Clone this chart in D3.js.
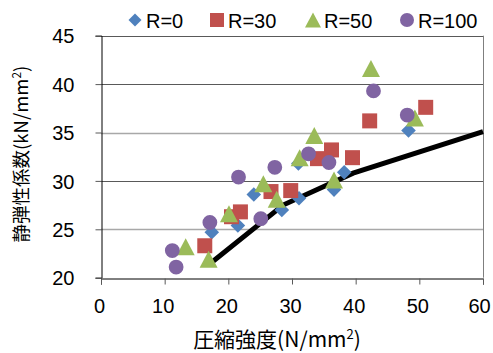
<!DOCTYPE html>
<html>
<head>
<meta charset="utf-8">
<script src="https://cdn.jsdelivr.net/npm/d3@7"></script>
<style>
  body { margin: 0; background: #fff; }
  svg { display: block; }
</style>
</head>
<body>
<div id="chart"></div>
<script>
// 圧縮強度 vs 静弾性係数 scatter
const seriesNames = ['R=0', 'R=30', 'R=50', 'R=100'];

const r0 = [[17.4, 24.7], [21.5, 25.4], [24.0, 28.6], [28.4, 27.0], [31.0, 31.8],
  [31.1, 28.2], [36.6, 29.1], [38.2, 30.9], [48.3, 35.2]];
const r30 = [[16.3, 23.3], [20.5, 26.3], [21.9, 26.8], [26.7, 28.9], [29.8, 29.0],
  [34.0, 32.3], [36.2, 33.2], [39.5, 32.4], [42.2, 36.2], [51.0, 37.6]];
const r50 = [[13.3, 23.2], [16.9, 21.9], [20.1, 26.6], [25.5, 29.7], [27.6, 28.1],
  [31.2, 32.4], [33.5, 34.7], [36.6, 30.1], [42.4, 41.6], [49.3, 36.5]];
const r100 = [[11.2, 22.8], [11.8, 21.1], [17.1, 25.7], [21.6, 30.4], [25.1, 26.1],
  [27.3, 31.4], [32.6, 32.8], [35.8, 31.9], [42.8, 39.3], [48.1, 36.8]];

// reference curve
const curve = [[17.6, 21.7], [28.6, 27.5], [39.6, 30.8], [60, 35.1]];

const xTicks = [0, 10, 20, 30, 40, 50, 60];
const yTicks = [20, 25, 30, 35, 40, 45];

const width = 493, height = 353;
const colors = ['#4F81BD', '#C0504D', '#9BBB59', '#8064A2'];
const shapes = ['diamond', 'square', 'triangle', 'circle'];

const x = d3.scaleLinear().domain([0, 60]).range([101, 483]);
const y = d3.scaleLinear().domain([20, 45]).range([277.7, 35.7]);

const svg = d3.select('#chart').append('svg')
  .attr('width', width)
  .attr('height', height);

// marker paths centred on the point
function marker(shape) {
  if (shape === 'diamond') return 'M0,-7.3L7.3,0L0,7.3L-7.3,0Z';
  if (shape === 'square') return 'M-7.5,-7.5H7.5V7.5H-7.5Z';
  if (shape === 'triangle') return 'M0,-8.5L9,8.5L-9,8.5Z';
  return d3.symbol(d3.symbolCircle, Math.PI * 7.4 * 7.4)();
}

// Gridlines (alternate dark / light, as in the picture)
svg.append('g')
  .selectAll('line')
  .data(yTicks.slice(1))
  .join('line')
  .attr('x1', x(0)).attr('x2', x(60))
  .attr('y1', d => Math.round(y(d)) + 0.5)
  .attr('y2', d => Math.round(y(d)) + 0.5)
  .attr('stroke', d => (d === 35 || d === 25) ? '#a8a8a8' : '#595959')
  .attr('stroke-width', d => (d === 35 || d === 25) ? 1.6 : 1);

// right border
svg.append('line')
  .attr('x1', x(60) + 0.5).attr('x2', x(60) + 0.5)
  .attr('y1', y(45)).attr('y2', y(20))
  .attr('stroke', '#7f7f7f');

// Axes
const yAxis = svg.append('g')
  .attr('transform', `translate(${Math.round(x(0)) + 0.5},0)`)
  .call(d3.axisLeft(y).tickValues(yTicks).tickSize(6).tickPadding(21));
const xAxis = svg.append('g')
  .attr('transform', `translate(0,${Math.round(y(20)) + 0.5})`)
  .call(d3.axisBottom(x).tickValues(xTicks).tickSize(6).tickPadding(14));

[yAxis, xAxis].forEach(a => {
  a.select('.domain').attr('stroke', '#000');
  a.selectAll('.tick line').attr('stroke', '#595959');
  a.selectAll('text')
    .attr('font-family', '"Liberation Sans", Arial, sans-serif')
    .attr('font-size', 20)
    .attr('fill', '#000');
});
yAxis.selectAll('text').attr('dy', '0.36em');
xAxis.selectAll('text').attr('dx', d => d === 60 ? -4 : -2);

// Curve
svg.append('path')
  .datum(curve)
  .attr('fill', 'none')
  .attr('stroke', '#000')
  .attr('stroke-width', 5)
  .attr('d', d3.line().x(d => x(d[0])).y(d => y(d[1])));

// Points
const allSeries = [r0, r30, r50, r100];
allSeries.forEach((data, i) => {
  svg.append('g')
    .selectAll('path')
    .data(data)
    .join('path')
    .attr('transform', d => `translate(${x(d[0])},${y(d[1])})`)
    .attr('d', marker(shapes[i]))
    .attr('fill', colors[i]);
});

// Legend
const legendX = [135, 217, 313, 407];
const legend = svg.append('g')
  .selectAll('g')
  .data(seriesNames)
  .join('g')
  .attr('transform', (d, i) => `translate(${legendX[i]},20)`);

legend.append('path')
  .attr('d', (d, i) => {
    if (shapes[i] === 'diamond') return 'M0,-6.5L6.5,0L0,6.5L-6.5,0Z';
    if (shapes[i] === 'square') return 'M-7,-7H7V7H-7Z';
    if (shapes[i] === 'triangle') return 'M0,-7.5L8,7.5L-8,7.5Z';
    return d3.symbol(d3.symbolCircle, Math.PI * 7 * 7)();
  })
  .attr('fill', (d, i) => colors[i]);

legend.append('text')
  .attr('x', 11)
  .attr('y', 8)
  .attr('font-family', '"Liberation Sans", Arial, sans-serif')
  .attr('font-size', 20)
  .text(d => d);

// Axis titles
const xTitle = svg.append('text')
  .attr('x', 277)
  .attr('y', 347)
  .attr('text-anchor', 'middle')
  .attr('font-family', '"Noto Sans CJK JP", sans-serif')
  .attr('font-size', 21);
xTitle.append('tspan').text('圧縮強度(N/mm');
xTitle.append('tspan').attr('font-size', 13).attr('dy', -8).text('2');
xTitle.append('tspan').attr('dy', 8).text(')');

const yTitle = svg.append('text')
  .attr('transform', 'translate(28,154) rotate(-90)')
  .attr('text-anchor', 'middle')
  .attr('font-family', '"Noto Sans CJK JP", sans-serif')
  .attr('font-size', 18.5);
yTitle.append('tspan').text('静弾性係数(kN/mm');
yTitle.append('tspan').attr('font-size', 12).attr('dy', -7).text('2');
yTitle.append('tspan').attr('dy', 7).text(')');
</script>
</body>
</html>
